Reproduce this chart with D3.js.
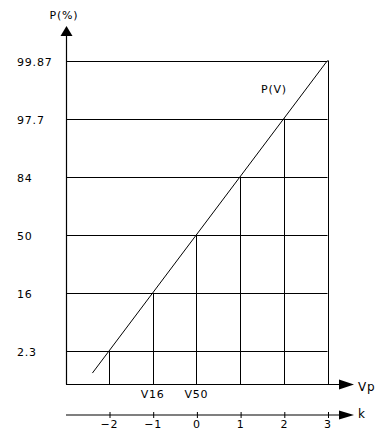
<!DOCTYPE html>
<html><head><meta charset="utf-8">
<script src="https://cdn.jsdelivr.net/npm/d3@7"></script>
<style>body{margin:0;background:#fff}svg{display:block}text{font-family:"DejaVu Sans",sans-serif;font-size:11px;letter-spacing:0.8px;fill:#000}</style>
</head><body>
<svg id="c" width="378" height="433"></svg>
<script>
const kValues = [-2, -1, 0, 1, 2, 3];
const pLabels = ["2.3", "16", "50", "84", "97.7", "99.87"];
const vpLabels = [{k: -1, label: "V16"}, {k: 0, label: "V50"}];
const lineK = [-2.38, 3];
const curveName = "P(V)";

const svg = d3.select("#c");
const x = d3.scaleLinear().domain([-2, 3]).range([109, 327.5]);
const y = d3.scaleLinear().domain([-2, 3]).range([351, 60.5]);
const axisX = 67, axisY = 384.5, kAxisY = 415;
const col = "#000";
const font = '"DejaVu Sans",sans-serif';

svg.selectAll("line.h").data(kValues).join("line")
  .attr("x1", axisX).attr("x2", x(3))
  .attr("y1", d => Math.round(y(d)) + 0.5).attr("y2", d => Math.round(y(d)) + 0.5)
  .attr("stroke", col).attr("stroke-width", 1);
svg.selectAll("line.v").data(kValues).join("line")
  .attr("x1", d => Math.round(x(d)) + 0.5).attr("x2", d => Math.round(x(d)) + 0.5)
  .attr("y1", d => y(d)).attr("y2", axisY)
  .attr("stroke", col).attr("stroke-width", 1);
svg.selectAll("text.p").data(kValues).join("text")
  .attr("x", 17).attr("y", d => y(d) + 2).attr("dominant-baseline", "middle")
  .text((d, i) => pLabels[i]);
svg.append("line")
  .attr("x1", x(lineK[0])).attr("y1", y(lineK[0]))
  .attr("x2", x(lineK[1])).attr("y2", y(lineK[1]))
  .attr("stroke", col).attr("stroke-width", 1);
svg.append("text").attr("x", 274).attr("y", 90).attr("text-anchor", "middle")
  .attr("dominant-baseline", "middle").text(curveName);

svg.append("line").attr("x1", axisX - 0.5).attr("x2", axisX - 0.5).attr("y1", axisY).attr("y2", 34)
  .attr("stroke", col).attr("stroke-width", 1.2);
svg.append("path").attr("d", `M${axisX - 0.5},26 L${axisX + 5.5},36 L${axisX - 6.5},36 Z`).attr("fill", col);
svg.append("text").attr("x", 64).attr("y", 16).attr("text-anchor", "middle")
  .attr("dominant-baseline", "middle").text("P(%)");

svg.append("line").attr("x1", axisX - 1).attr("x2", 340).attr("y1", axisY).attr("y2", axisY)
  .attr("stroke", col).attr("stroke-width", 1.2);
svg.append("path").attr("d", `M354,${axisY} L339,${axisY - 5} L339,${axisY + 5} Z`).attr("fill", col);
svg.append("text").attr("x", 358).attr("y", 387).attr("dominant-baseline", "middle").style("font-size", "12px").text("Vp");
svg.selectAll("text.vp").data(vpLabels).join("text")
  .attr("x", d => x(d.k)).attr("y", 395).attr("text-anchor", "middle")
  .attr("dominant-baseline", "middle").text(d => d.label);

const kAxis = d3.axisBottom(x).tickValues(kValues).tickSize(0).tickFormat(d => d < 0 ? "\u2212" + Math.abs(d) : d);
const kg = svg.append("g").attr("transform", `translate(0,${kAxisY})`).call(kAxis);
kg.select(".domain").remove();
kg.selectAll(".tick text").attr("y", 9).attr("dy", "0.32em").style("font-family", font).style("font-size", "11px").style("letter-spacing", "0.8px");
kg.selectAll(".tick").append("line").attr("x1", 0.5).attr("x2", 0.5).attr("y1", -3).attr("y2", 3).attr("stroke", col);
svg.append("line").attr("x1", axisX - 1).attr("x2", 340).attr("y1", kAxisY).attr("y2", kAxisY)
  .attr("stroke", col).attr("stroke-width", 1.2);
svg.append("path").attr("d", `M354,${kAxisY} L339,${kAxisY - 4.5} L339,${kAxisY + 4.5} Z`).attr("fill", col);
svg.append("text").attr("x", 358).attr("y", 414).attr("dominant-baseline", "middle").style("font-size", "12px").text("k");
</script>
</body></html>
